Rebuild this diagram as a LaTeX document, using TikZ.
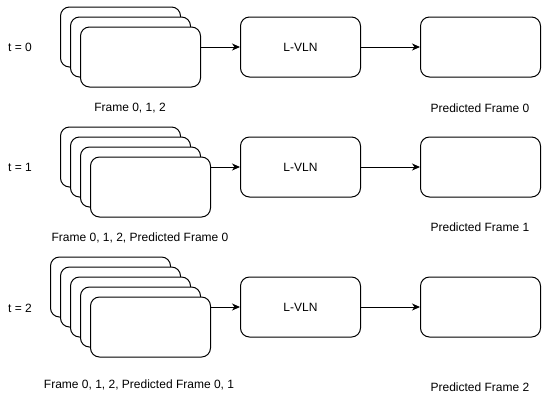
\documentclass[tikz,border=0pt]{standalone}
\usepackage{fontspec}
\setmainfont{Liberation Sans}
\usetikzlibrary{arrows.meta}

\tikzset{
  card/.style={draw, fill=white, rounded corners=9bp, line width=1bp,
    minimum width=120bp, minimum height=60bp, inner sep=0pt},
  link/.style={line width=1bp, -{Stealth[length=8bp,width=7bp,inset=2.5bp]}}
}

\begin{document}
\begin{tikzpicture}[x=1bp, y=-1bp, font=\fontsize{12bp}{14bp}\selectfont]
\useasboundingbox (0,0) rectangle (549,402);

% t = 0
\node (t0) at (20,47) {t = 0};
\node[card] (a1) at (120.5,37) {};
\node[card] (a2) at (130.5,47) {};
\node[card] (a3) at (140.5,57) {};
\node[card] (m0) at (300.5,47) {L-VLN};
\node[card] (p0) at (480.5,47) {};
\draw[link] (a3.east |- m0.west) -- (m0.west);
\draw[link] (m0) -- (p0);
\node (la0) at (130,108) {Frame 0, 1, 2};
\node (lp0) at (480,108) {Predicted Frame 0};

% t = 1
\node (t1) at (20,167) {t = 1};
\node[card] (b1) at (120.5,157) {};
\node[card] (b2) at (130.5,167) {};
\node[card] (b3) at (140.5,177) {};
\node[card] (b4) at (150.5,187) {};
\node[card] (m1) at (300.5,167) {L-VLN};
\node[card] (p1) at (480.5,167) {};
\draw[link] (b4.east |- m1.west) -- (m1.west);
\draw[link] (m1) -- (p1);
\node (la1) at (140,238) {Frame 0, 1, 2, Predicted Frame 0};
\node (lp1) at (480,227) {Predicted Frame 1};

% t = 2
\node (t2) at (20,308) {t = 2};
\node[card] (c1) at (110.5,287) {};
\node[card] (c2) at (120.5,297) {};
\node[card] (c3) at (130.5,307) {};
\node[card] (c4) at (140.5,317) {};
\node[card] (c5) at (150.5,327) {};
\node[card] (m2) at (300.5,307) {L-VLN};
\node[card] (p2) at (480.5,307) {};
\draw[link] (c5.east |- m2.west) -- (m2.west);
\draw[link] (m2) -- (p2);
\node (la2) at (139,385) {Frame 0, 1, 2, Predicted Frame 0, 1};
\node (lp2) at (480,387) {Predicted Frame 2};
\end{tikzpicture}
\end{document}
